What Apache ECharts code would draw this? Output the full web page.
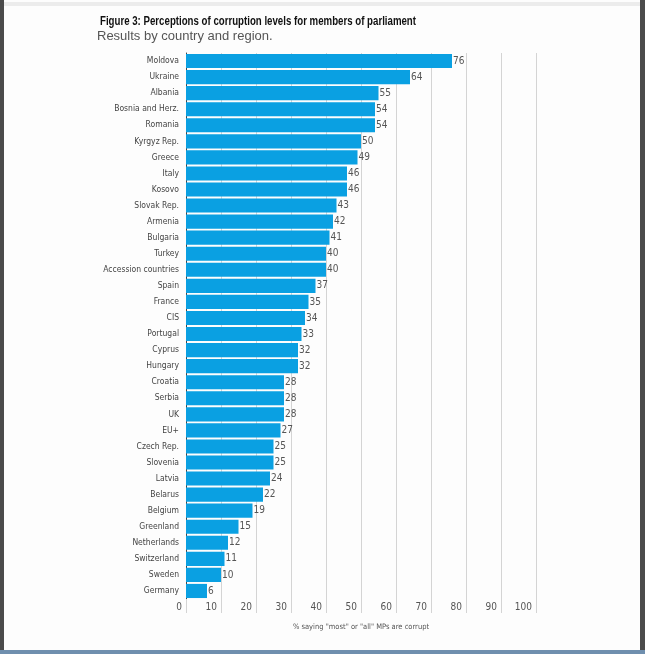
<!DOCTYPE html>
<html>
<head>
<meta charset="utf-8">
<script src="https://cdn.jsdelivr.net/npm/echarts@6/dist/echarts.min.js"></script>
<style>
html,body{margin:0;padding:0;background:#fdfdfd;}
#chart{width:645px;height:654px;}
</style>
</head>
<body>
<div id="chart"></div>
<script>
const categories = ["Moldova","Ukraine","Albania","Bosnia and Herz.","Romania","Kyrgyz Rep.","Greece","Italy","Kosovo","Slovak Rep.","Armenia","Bulgaria","Turkey","Accession countries","Spain","France","CIS","Portugal","Cyprus","Hungary","Croatia","Serbia","UK","EU+","Czech Rep.","Slovenia","Latvia","Belarus","Belgium","Greenland","Netherlands","Switzerland","Sweden","Germany"];
const values = [76,64,55,54,54,50,49,46,46,43,42,41,40,40,37,35,34,33,32,32,28,28,28,27,25,25,24,22,19,15,12,11,10,6];
const xTicks = [0,10,20,30,40,50,60,70,80,90,100];
const titleText = 'Figure 3: Perceptions of corruption levels for members of parliament';
const subtitleText = 'Results by country and region.';

const narrow = '"Liberation Sans Narrow","DejaVu Sans Condensed",sans-serif';
const titleFont = 'bold 13px "Liberation Sans", Arial, sans-serif';
const cv = document.createElement('canvas').getContext('2d');
cv.font = titleFont;
const titleScale = 316 / cv.measureText(titleText).width;

const chart = echarts.init(document.getElementById('chart'));
chart.setOption({
  animation: false,
  backgroundColor: '#fdfdfd',
  graphic: [
    {type:'rect', shape:{x:0,y:0,width:4,height:654}, style:{fill:'#4b4b4b'}},
    {type:'rect', shape:{x:640,y:0,width:5,height:654}, style:{fill:'#4b4b4b'}},
    {type:'rect', shape:{x:4,y:2,width:636,height:4}, style:{fill:'#ececec'}},
    {type:'rect', shape:{x:0,y:650,width:645,height:4}, style:{fill:'#6f8fae'}},
    {type:'text', x:100, y:15, scaleX: titleScale, style:{text:titleText, font:titleFont, fill:'#111'}},
    {type:'text', x:97, y:30, style:{text:subtitleText, font:'13px "Liberation Sans", Arial, sans-serif', fill:'#555'}}
  ],
  grid: {left: 186, right: 109, top: 53, bottom: 55, containLabel: false},
  xAxis: {
    type: 'value', min: 0, max: 100, interval: 10,
    axisLine: {show: false},
    axisTick: {show: true, length: 14, lineStyle: {color: '#d4d4d4'}},
    splitLine: {show: true, lineStyle: {color: '#d4d4d4', width: 1}},
    axisLabel: {
      color: '#555', fontSize: 10, fontFamily: narrow, margin: 3,
      align: 'right', padding: [0, 4, 0, 0],
      formatter: v => xTicks.includes(v) ? String(v) : ''
    },
    name: '% saying "most" or "all" MPs are corrupt',
    nameLocation: 'middle', nameGap: 24,
    nameTextStyle: {color: '#555', fontSize: 7.5, fontFamily: narrow}
  },
  yAxis: {
    type: 'category', data: categories, inverse: true,
    axisLine: {show: true, lineStyle: {color: '#444', width: 1}},
    axisTick: {show: false},
    axisLabel: {color: '#444', fontSize: 8.5, fontFamily: narrow, margin: 7}
  },
  series: [{
    type: 'bar', data: values, barCategoryGap: '12%',
    itemStyle: {color: '#0aa0e2'},
    label: {show: true, position: 'right', distance: 1, color: '#555', fontSize: 10, fontFamily: narrow}
  }]
});
</script>
</body>
</html>
